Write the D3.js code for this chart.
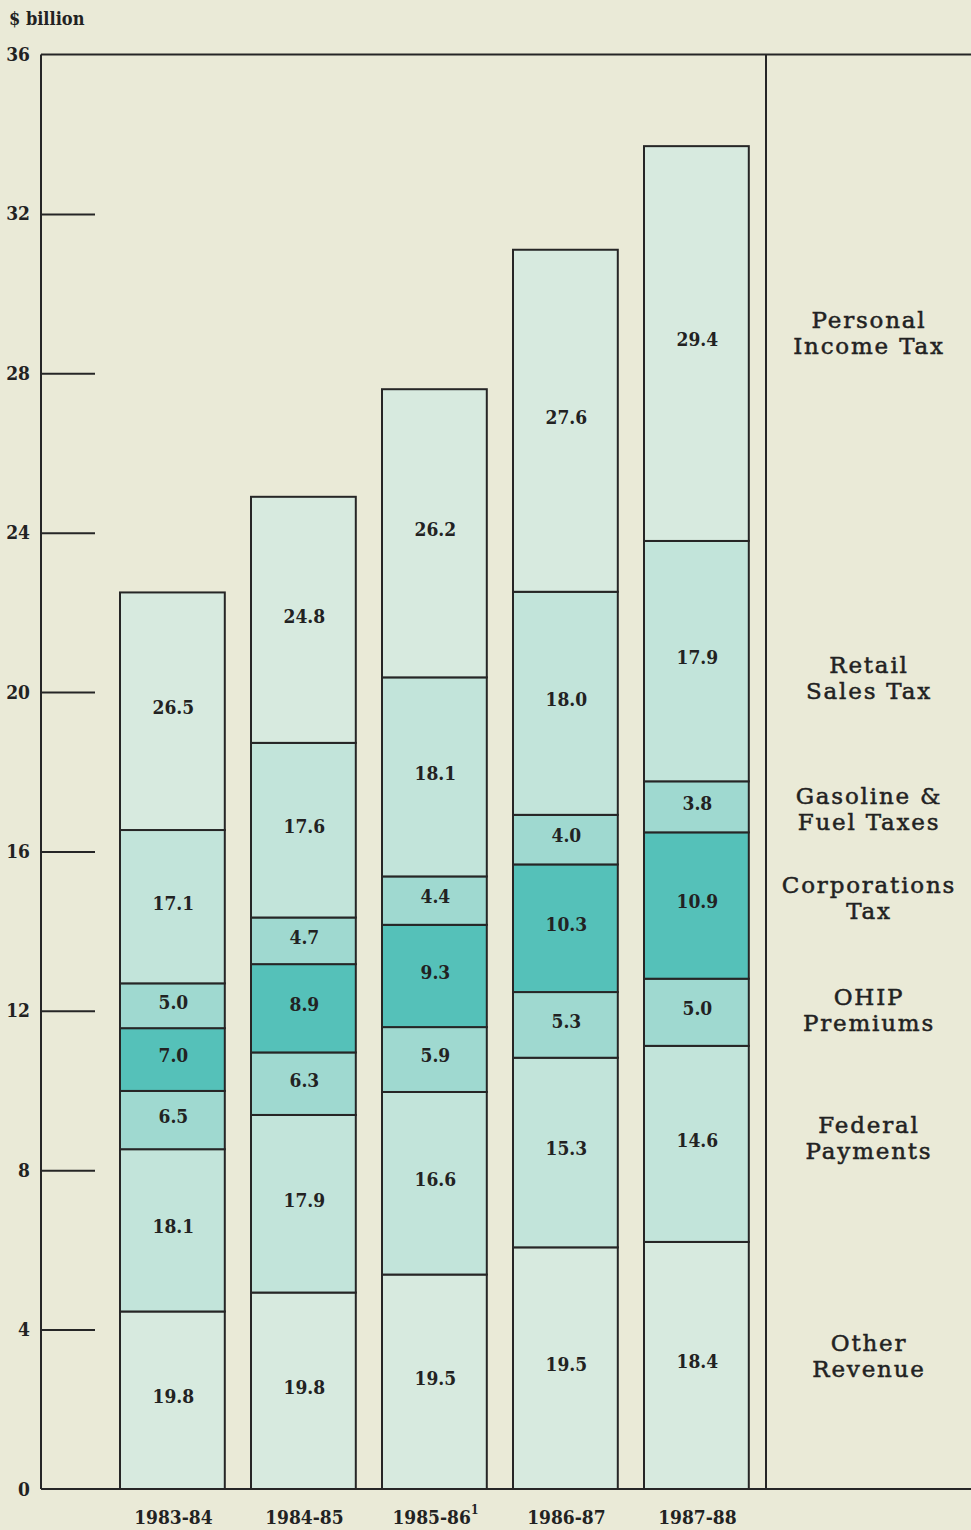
<!DOCTYPE html>
<html>
<head>
<meta charset="utf-8">
<script src="https://cdn.jsdelivr.net/npm/d3@7/dist/d3.min.js"></script>
<style>
  html, body { margin: 0; padding: 0; background: #eaead7; }
  svg { display: block; }
</style>
</head>
<body>
<script>
// Fiscal years and total revenue ($ billion)
const years = ["1983-84", "1984-85", "1985-86", "1986-87", "1987-88"];
const yearNotes = ["", "", "1", "", ""];
const totals = [22.5, 24.9, 27.6, 31.1, 33.7];

// Revenue sources, stacked bottom to top
const sources = ["Other Revenue", "Federal Payments", "OHIP Premiums", "Corporations Tax",
                 "Gasoline & Fuel Taxes", "Retail Sales Tax", "Personal Income Tax"];
const sourceLines = [["Other", "Revenue"], ["Federal", "Payments"], ["OHIP", "Premiums"],
                     ["Corporations", "Tax"], ["Gasoline &", "Fuel Taxes"], ["Retail", "Sales Tax"],
                     ["Personal", "Income Tax"]];

// Share of total revenue (%) per source, one array per source, by year
const otherRevenue    = [19.8, 19.8, 19.5, 19.5, 18.4];
const federalPayments = [18.1, 17.9, 16.6, 15.3, 14.6];
const ohipPremiums    = [6.5, 6.3, 5.9, 5.3, 5.0];
const corporationsTax = [7.0, 8.9, 9.3, 10.3, 10.9];
const gasolineFuel    = [5.0, 4.7, 4.4, 4.0, 3.8];
const retailSales     = [17.1, 17.6, 18.1, 18.0, 17.9];
const personalIncome  = [26.5, 24.8, 26.2, 27.6, 29.4];

const yTicks = [0, 4, 8, 12, 16, 20, 24, 28, 32, 36];

const shares = [otherRevenue, federalPayments, ohipPremiums, corporationsTax,
                gasolineFuel, retailSales, personalIncome];
const fills = ["#d7eadf", "#c2e4da", "#9fd9d0", "#55c1b9", "#9fd9d0", "#c2e4da", "#d7eadf"];

const W = 971, H = 1530;
const ink = "#262626";
const serif = "'DejaVu Serif', serif";
const serifNum = "'DejaVu Serif Condensed', 'DejaVu Serif', serif";

const svg = d3.select("body").append("svg").attr("width", W).attr("height", H);
svg.append("rect").attr("width", W).attr("height", H).attr("fill", "#eaead7");

const plotLeft = 41, plotTop = 54.5, plotBottom = 1489, divider = 766;

const y = d3.scaleLinear().domain([0, 36]).range([plotBottom, plotTop]);
const x = d3.scaleBand().domain(years).range([106.9, 761.9]).paddingInner(0.2).paddingOuter(0.1);

// Stack the dollar amounts: each share converted to $ billion of that year's total
const rows = years.map((yr, i) => {
  const row = { year: yr };
  sources.forEach((s, k) => { row[s] = totals[i] * shares[k][i] / 100; });
  return row;
});
const stacked = d3.stack().keys(sources)(rows);

const g = svg.append("g");
stacked.forEach((layer, k) => {
  layer.forEach((d, i) => {
    const yr = years[i];
    g.append("rect")
      .attr("x", x(yr))
      .attr("y", y(d[1]))
      .attr("width", x.bandwidth())
      .attr("height", y(d[0]) - y(d[1]))
      .attr("fill", fills[k])
      .attr("stroke", ink)
      .attr("stroke-width", 2);
    g.append("text")
      .attr("x", x(yr) + x.bandwidth() / 2 + 1)
      .attr("y", (y(d[0]) + y(d[1])) / 2 - 4)
      .attr("dy", "0.36em")
      .attr("text-anchor", "middle")
      .attr("font-family", serifNum)
      .attr("font-weight", "bold")
      .attr("font-size", 19)
      .attr("fill", "#222")
      .text(shares[k][i].toFixed(1));
  });
});

// Frame: top rule, left axis, baseline and the legend divider
const frame = svg.append("g").attr("stroke", ink).attr("stroke-width", 2).attr("fill", "none");
frame.append("line").attr("x1", plotLeft).attr("x2", W).attr("y1", plotTop).attr("y2", plotTop);
frame.append("line").attr("x1", plotLeft).attr("x2", plotLeft).attr("y1", plotTop).attr("y2", plotBottom);
frame.append("line").attr("x1", plotLeft).attr("x2", W).attr("y1", plotBottom).attr("y2", plotBottom);
frame.append("line").attr("x1", divider).attr("x2", divider).attr("y1", plotTop).attr("y2", plotBottom);

// Left axis with long inward ticks
const axis = d3.axisLeft(y).tickValues(yTicks).tickSize(0).tickPadding(11).tickFormat(d3.format("d"));
const ag = svg.append("g").attr("transform", `translate(${plotLeft},0)`).call(axis);
ag.select(".domain").remove();
ag.selectAll("text")
  .attr("font-family", serifNum).attr("font-weight", "bold").attr("font-size", 19).attr("fill", "#222");
ag.selectAll(".tick").filter(d => d > 0 && d < 36).append("line")
  .attr("x1", 0).attr("x2", 54).attr("stroke", ink).attr("stroke-width", 2);

svg.append("text")
  .attr("x", 9).attr("y", 25)
  .attr("font-family", serifNum).attr("font-weight", "bold").attr("font-size", 18).attr("fill", "#222")
  .text("$ billion");

// Year labels
const xl = svg.append("g");
years.forEach((yr, i) => {
  const t = xl.append("text")
    .attr("x", x(yr) + x.bandwidth() / 2 + 1)
    .attr("y", 1524)
    .attr("text-anchor", "middle")
    .attr("font-family", serifNum).attr("font-weight", "bold").attr("font-size", 19).attr("fill", "#222")
    .text(yr);
  if (yearNotes[i]) {
    t.append("tspan").attr("dy", -10).attr("font-size", 12).text(yearNotes[i]);
  }
});

// Source legend on the right, two lines each
const legendCentres = [1356, 1138, 1010, 898, 809, 678, 333];
const legend = svg.append("g")
  .attr("font-family", serif).attr("font-size", 23).attr("fill", "#222")
  .attr("stroke", "#222").attr("stroke-width", 0.5)
  .attr("text-anchor", "middle").attr("letter-spacing", 1.8);
sourceLines.forEach((lines, k) => {
  lines.forEach((ln, j) => {
    legend.append("text")
      .attr("x", 869)
      .attr("y", legendCentres[k] - 13 + j * 26)
      .attr("dy", "0.36em")
      .text(ln);
  });
});
</script>
</body>
</html>
